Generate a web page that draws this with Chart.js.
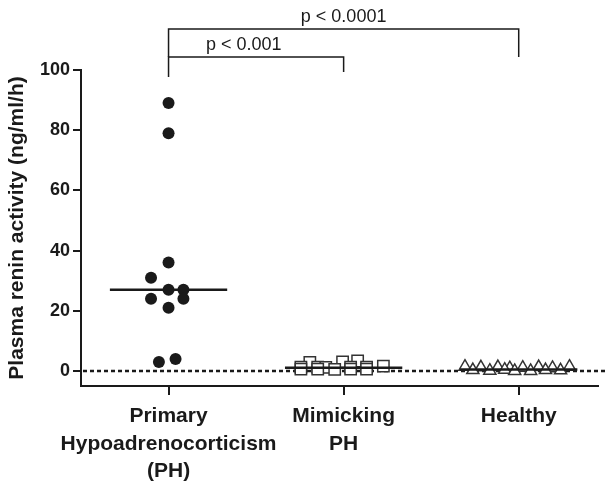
<!DOCTYPE html>
<html lang="en">
<head>
    <meta charset="UTF-8">
    <title>Plasma renin activity</title>
    <script src="https://cdn.jsdelivr.net/npm/chart.js"></script>
    <style>
        body {
            margin: 0;
            background: #fff;
        }
        .wrap {
            width: 607px;
            height: 483px;
            position: relative;
        }
    </style>
</head>
<body>
    <div class="wrap">
        <canvas id="reninChart"></canvas>
    </div>

    <script>
        // groups on the x axis (multi-line labels)
        const categories = [
            ['Primary', 'Hypoadrenocorticism', '(PH)'],
            ['Mimicking', 'PH'],
            ['Healthy']
        ];
        const yTicks = [0, 20, 40, 60, 80, 100];

        // values, with the horizontal scatter of each dot (in group units)
        const phValues = [89, 79, 36, 31, 27, 27, 24, 24, 21, 3, 4];
        const phJitter = [0, 0, 0, -0.10, 0, 0.085, -0.10, 0.085, 0, -0.055, 0.04];

        const mimValues = [2.8, 3.0, 3.3, 1.3, 1.3, 1.2, 1.3, 1.3, 1.6, 0.6, 0.6, 0.5, 0.6, 0.6];
        const mimJitter = [-0.193, -0.006, 0.08, -0.244, -0.148, -0.102, 0.04, 0.131, 0.227, -0.244, -0.148, -0.051, 0.04, 0.131];

        const healthyValues = [1.4, 1.2, 1.3, 0.9, 1.1, 1.3, 1.0, 1.4, 0.3, 0.1, 0.4, 0.0, 0.0, 0.3, 0.2];
        const healthyJitter = [-0.307, -0.216, -0.119, -0.051, 0.023, 0.114, 0.193, 0.29, -0.262, -0.165, -0.08, -0.023, 0.068, 0.153, 0.239];

        const medians = [27, 1.1, 0.5];

        // significance brackets: from group, to group, p label
        const bracketFrom = [1, 1];
        const bracketTo = [2, 3];
        const bracketLabels = ['p < 0.001', 'p < 0.0001'];

        const FONT = "'Liberation Sans', Arial, sans-serif";
        const INK = '#1a1a1a';

        function toPoints(group, values, jitter) {
            return values.map((v, i) => ({ x: group + jitter[i], y: v }));
        }

        const medianSets = medians.map((m, i) => ({
            type: 'line',
            data: [{ x: i + 1 - 0.335, y: m }, { x: i + 1 + 0.335, y: m }],
            borderColor: INK,
            borderWidth: 2.5,
            pointRadius: 0,
            order: 0
        }));

        // dotted zero line + p-value brackets
        const extras = {
            id: 'extras',
            beforeDatasetsDraw(chart) {
                const { ctx, chartArea, scales } = chart;
                const y0 = scales.y.getPixelForValue(0);
                ctx.save();
                ctx.strokeStyle = INK;
                ctx.lineWidth = 2.5;
                ctx.setLineDash([4, 3]);
                ctx.beginPath();
                ctx.moveTo(chartArea.left + 2, y0);
                ctx.lineTo(chart.width, y0);
                ctx.stroke();
                ctx.restore();
            },
            afterDraw(chart) {
                const { ctx, scales } = chart;
                const x = scales.x;
                // bracket heights, top of the figure first
                const lines = [
                    { top: 57, left: 77, right: 72, textY: 45, textX: 1.43 },
                    { top: 29, left: 57, right: 57, textY: 17, textX: 2.0 }
                ];
                ctx.save();
                ctx.strokeStyle = INK;
                ctx.lineWidth = 1.5;
                ctx.fillStyle = INK;
                ctx.font = '18px ' + FONT;
                ctx.textAlign = 'center';
                ctx.textBaseline = 'middle';
                bracketLabels.forEach((label, i) => {
                    const l = lines[i];
                    const x1 = x.getPixelForValue(bracketFrom[i]);
                    const x2 = x.getPixelForValue(bracketTo[i]);
                    ctx.beginPath();
                    ctx.moveTo(x1, l.left);
                    ctx.lineTo(x1, l.top);
                    ctx.lineTo(x2, l.top);
                    ctx.lineTo(x2, l.right);
                    ctx.stroke();
                    ctx.fillText(label, x.getPixelForValue(l.textX), l.textY);
                });
                ctx.restore();
            }
        };

        new Chart(document.getElementById('reninChart'), {
            type: 'scatter',
            data: {
                datasets: [
                    {
                        data: toPoints(1, phValues, phJitter),
                        pointStyle: 'circle',
                        pointRadius: 6,
                        backgroundColor: INK,
                        borderColor: INK,
                        borderWidth: 0,
                        order: 1
                    },
                    {
                        data: toPoints(2, mimValues, mimJitter),
                        pointStyle: 'rect',
                        pointRadius: 8,
                        backgroundColor: '#fff',
                        borderColor: '#333',
                        borderWidth: 1.5,
                        order: 1
                    },
                    {
                        data: toPoints(3, healthyValues, healthyJitter),
                        pointStyle: 'triangle',
                        pointRadius: 7,
                        backgroundColor: '#fff',
                        borderColor: '#333',
                        borderWidth: 1.5,
                        order: 1
                    },
                    ...medianSets
                ]
            },
            options: {
                responsive: true,
                maintainAspectRatio: false,
                animation: false,
                layout: { padding: { top: 70, right: 7, left: 0, bottom: 0 } },
                plugins: {
                    legend: { display: false },
                    tooltip: { enabled: false }
                },
                scales: {
                    x: {
                        type: 'linear',
                        min: 0.5,
                        max: 3.45,
                        afterBuildTicks: scale => {
                            scale.ticks = categories.map((c, i) => ({ value: i + 1 }));
                        },
                        afterFit: scale => { scale.height = 97; },
                        border: { color: INK, width: 2 },
                        grid: { drawOnChartArea: false, tickLength: 9, color: INK, lineWidth: 2 },
                        ticks: {
                            autoSkip: false,
                            maxRotation: 0,
                            padding: 8,
                            color: INK,
                            font: { family: FONT, size: 21, weight: 'bold', lineHeight: 1.3 },
                            callback: (v) => categories[Math.round(v) - 1]
                        }
                    },
                    y: {
                        min: -5,
                        max: 100,
                        afterBuildTicks: scale => {
                            scale.ticks = yTicks.map(v => ({ value: v }));
                        },
                        afterFit: scale => { scale.width = 81; },
                        border: { color: INK, width: 2 },
                        grid: { drawOnChartArea: false, tickLength: 8, color: INK, lineWidth: 2 },
                        ticks: {
                            padding: 3,
                            color: INK,
                            font: { family: FONT, size: 18, weight: 'bold' }
                        },
                        title: {
                            display: true,
                            text: 'Plasma renin activity (ng/ml/h)',
                            color: INK,
                            padding: { top: 5, bottom: 0 },
                            font: { family: FONT, size: 21, weight: 'bold' }
                        }
                    }
                }
            },
            plugins: [extras]
        });
    </script>
</body>
</html>
